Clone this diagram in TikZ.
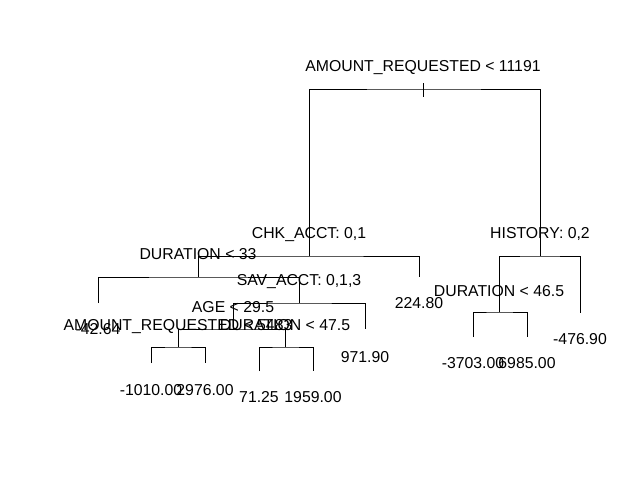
\documentclass[tikz,border=0pt]{standalone}
\usepackage{fontspec}
\setmainfont{Liberation Sans}
\begin{document}
\begin{tikzpicture}[x=1pt, y=-1pt, line width=1pt,
    splitlabel/.style={anchor=base, inner sep=0pt, font=\fontsize{15.8}{18}\selectfont},
    leaflabel/.style={anchor=base, inner sep=0pt, font=\fontsize{15.8}{18}\selectfont}]
    \useasboundingbox (0,0) rectangle (640,480);

    % Split points
    \coordinate (root) at (423,89);
    \coordinate (chk) at (309,256);
    \coordinate (hist) at (540,256);
    \coordinate (dura) at (198,277);
    \coordinate (sav) at (299,303);
    \coordinate (age) at (233,329);
    \coordinate (amt) at (178,347);
    \coordinate (durb) at (285,347);
    \coordinate (durc) at (499,312);

    % Leaves
    \coordinate (lfa) at (419,277);
    \coordinate (lfb) at (98,303);
    \coordinate (lfc) at (365,329);
    \coordinate (lfd) at (151,363);
    \coordinate (lfe) at (205,363);
    \coordinate (lff) at (259,371);
    \coordinate (lfg) at (313,371);
    \coordinate (lfh) at (580,313);
    \coordinate (lfi) at (473,337);
    \coordinate (lfj) at (527,337);

    % Branches
    \draw (chk) |- (root) -| (hist);
    \draw (dura) |- (chk) -| (lfa);
    \draw (lfb) |- (dura) -| (sav);
    \draw (age) |- (sav) -| (lfc);
    \draw (amt) |- (age) -| (durb);
    \draw (lfd) |- (amt) -| (lfe);
    \draw (lff) |- (durb) -| (lfg);
    \draw (durc) |- (hist) -| (lfh);
    \draw (lfi) |- (durc) -| (lfj);

    % Root tick
    \draw ([yshift=6pt]root) -- ([yshift=-8pt]root);

    % Split labels
    \node[splitlabel] (troot) at ([yshift=18pt]root) {AMOUNT\_REQUESTED < 11191};
    \node[splitlabel] (tchk) at ([yshift=18pt]chk) {CHK\_ACCT: 0,1};
    \node[splitlabel] (thist) at ([yshift=18pt]hist) {HISTORY: 0,2};
    \node[splitlabel] (tdura) at ([yshift=18pt]dura) {DURATION < 33};
    \node[splitlabel] (tsav) at ([yshift=18pt]sav) {SAV\_ACCT: 0,1,3};
    \node[splitlabel] (tage) at ([yshift=17pt]age) {AGE < 29.5};
    \node[splitlabel] (tamt) at ([yshift=17pt]amt) {AMOUNT\_REQUESTED < 5483};
    \node[splitlabel] (tdurb) at ([yshift=17pt]durb) {DURATION < 47.5};
    \node[splitlabel] (tdurc) at ([yshift=16pt]durc) {DURATION < 46.5};

    % Leaf labels
    \node[leaflabel] (tlfa) at ([yshift=-31pt]lfa) {224.80};
    \node[leaflabel] (tlfb) at ([yshift=-31pt]lfb) {-42.64};
    \node[leaflabel] (tlfc) at ([yshift=-33pt]lfc) {971.90};
    \node[leaflabel] (tlfd) at ([yshift=-32pt]lfd) {-1010.00};
    \node[leaflabel] (tlfe) at ([yshift=-32pt]lfe) {2976.00};
    \node[leaflabel] (tlff) at ([yshift=-31pt]lff) {71.25};
    \node[leaflabel] (tlfg) at ([yshift=-31pt]lfg) {1959.00};
    \node[leaflabel] (tlfh) at ([yshift=-31pt]lfh) {-476.90};
    \node[leaflabel] (tlfi) at ([yshift=-31pt]lfi) {-3703.00};
    \node[leaflabel] (tlfj) at ([yshift=-31pt]lfj) {6985.00};
\end{tikzpicture}
\end{document}
